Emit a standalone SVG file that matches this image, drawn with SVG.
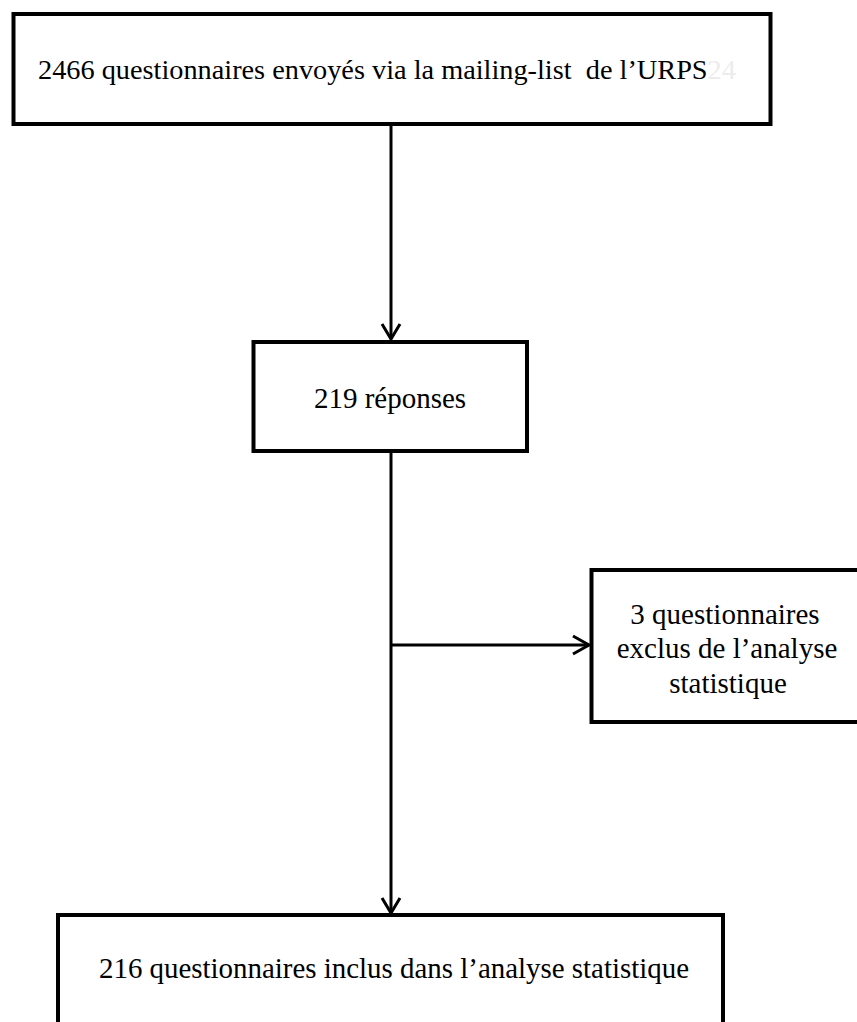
<svg xmlns="http://www.w3.org/2000/svg" width="857" height="1022" viewBox="0 0 857 1022">
<style>
.box{fill:#fff;stroke:#000;stroke-width:4}
.t{font-family:"Liberation Serif","Times New Roman",serif;font-size:29px;fill:#000}
.c{text-anchor:middle}
.ln{fill:none;stroke:#000;stroke-width:3}
.ah{fill:none;stroke:#000;stroke-width:3;stroke-linecap:butt;stroke-linejoin:miter}
</style>
<rect width="857" height="1022" fill="#fff"/>
<g id="connectors">
<line class="ln" x1="391" y1="124" x2="391" y2="339"/>
<path class="ah" d="M382,324 L391,339 L400,324"/>
<line class="ln" x1="391" y1="451" x2="391" y2="913"/>
<path class="ah" d="M382,898 L391,913 L400,898"/>
<line class="ln" x1="391" y1="645" x2="589" y2="645"/>
<path class="ah" d="M573,636 L589,645 L573,654"/>
</g>
<g id="node-envoyes">
<rect class="box" x="13.5" y="14" width="757" height="110"/>
<text class="t" x="38" y="79" style="font-size:28.3px" xml:space="preserve">2466 questionnaires envoyés via la mailing-list  de l’URPS<tspan style="fill:#ececec">24</tspan></text>
</g>
<g id="node-reponses">
<rect class="box" x="253.5" y="342" width="273.5" height="109"/>
<text class="t c" x="390" y="408">219 réponses</text>
</g>
<g id="node-exclus">
<rect class="box" x="591.5" y="570" width="290" height="152"/>
<text class="t c" x="725" y="624">3 questionnaires</text>
<text class="t c" x="727" y="658">exclus de l’analyse</text>
<text class="t c" x="728" y="693">statistique</text>
</g>
<g id="node-inclus">
<rect class="box" x="58" y="915" width="665" height="130"/>
<text class="t" x="99" y="978" style="font-size:30px" textLength="590" lengthAdjust="spacingAndGlyphs">216 questionnaires inclus dans l’analyse statistique</text>
</g>
</svg>
